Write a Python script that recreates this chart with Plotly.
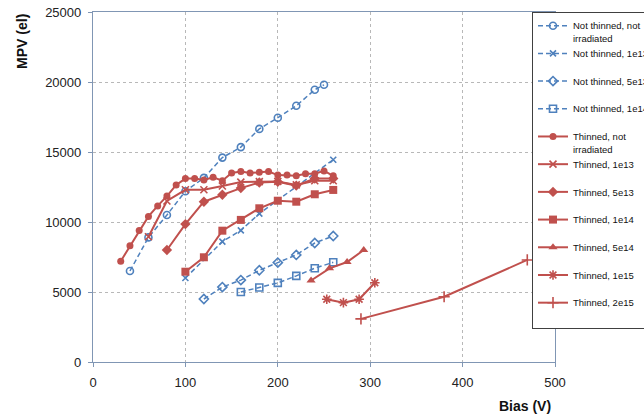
import plotly.graph_objects as go

# ---- data ----
nt_noirr_x = [40, 60, 80, 100, 120, 140, 160, 180, 200, 220, 240, 250]
nt_noirr_y = [6500, 8900, 10500, 12200, 13150, 14600, 15350, 16650, 17450, 18300, 19450, 19800]

nt_1e13_x = [100, 140, 160, 180, 260]
nt_1e13_y = [6000, 8600, 9400, 10600, 14450]

nt_5e13_x = [120, 140, 160, 180, 200, 220, 240, 260]
nt_5e13_y = [4500, 5350, 5850, 6550, 7100, 7650, 8500, 9000]

nt_1e14_x = [160, 180, 200, 220, 240, 260]
nt_1e14_y = [5000, 5320, 5650, 6150, 6700, 7120]

t_noirr_x = [30, 40, 50, 60, 70, 80, 90, 100, 110, 120, 130, 140, 150, 160, 170, 180,
             190, 200, 210, 220, 230, 240, 250, 260]
t_noirr_y = [7200, 8300, 9400, 10400, 11150, 11850, 12650, 13100, 13100, 13000, 13200, 12950,
             13500, 13600, 13500, 13550, 13600, 13350, 13350, 13300, 13450, 13450, 13650, 13300]

t_1e13_x = [60, 80, 100, 120, 140, 160, 180, 200, 220, 240, 260]
t_1e13_y = [8950, 11500, 12300, 12300, 12570, 12850, 12880, 12900, 12650, 12950, 12950]

t_5e13_x = [80, 100, 120, 140, 160, 180, 200, 220, 240, 260]
t_5e13_y = [8000, 9850, 11450, 11950, 12420, 12820, 12880, 12600, 13100, 13100]

t_1e14_x = [100, 120, 140, 160, 180, 200, 220, 240, 260]
t_1e14_y = [6450, 7480, 9380, 10150, 10980, 11520, 11450, 11980, 12290]

t_5e14_x = [236, 256, 275, 293]
t_5e14_y = [5820, 6690, 7140, 8000]

t_1e15_x = [253, 271, 288, 305]
t_1e15_y = [4480, 4240, 4480, 5660]

t_2e15_x = [290, 380, 470]
t_2e15_y = [3080, 4660, 7290]

x_ticks = [0, 100, 200, 300, 400, 500]
y_ticks = [0, 5000, 10000, 15000, 20000, 25000]

BLUE = "#4f81bd"
RED = "#c0504d"

series = [
    ("Not thinned, not<br>irradiated", nt_noirr_x, nt_noirr_y, BLUE, "circle-open", 7, True),
    ("Not thinned, 1e13<br> ", nt_1e13_x, nt_1e13_y, BLUE, "x-thin", 6, True),
    ("Not thinned, 5e13<br> ", nt_5e13_x, nt_5e13_y, BLUE, "diamond-open", 7, True),
    ("Not thinned, 1e14<br> ", nt_1e14_x, nt_1e14_y, BLUE, "square-open", 7, True),
    ("Thinned, not<br>irradiated", t_noirr_x, t_noirr_y, RED, "circle", 7, False),
    ("Thinned, 1e13<br> ", t_1e13_x, t_1e13_y, RED, "x-thin", 7, False),
    ("Thinned, 5e13<br> ", t_5e13_x, t_5e13_y, RED, "diamond", 8, False),
    ("Thinned, 1e14<br> ", t_1e14_x, t_1e14_y, RED, "square", 8, False),
    ("Thinned, 5e14<br> ", t_5e14_x, t_5e14_y, RED, "triangle-up", 8, False),
    ("Thinned, 1e15<br> ", t_1e15_x, t_1e15_y, RED, "asterisk-open", 8, False),
    ("Thinned, 2e15<br> ", t_2e15_x, t_2e15_y, RED, "cross-thin", 8, False),
]

fig = go.Figure()
for name, xs, ys, col, sym, size, dashed in series:
    outline = sym.endswith("-thin") or sym.endswith("-open")
    marker = dict(symbol=sym, size=size, color=col,
                  line=dict(color=col, width=1.6 if outline else 0))
    fig.add_trace(go.Scatter(
        x=xs, y=ys, name=name, mode="lines+markers",
        line=dict(color=col, width=1.5 if dashed else 2, dash="5px,3px" if dashed else "solid"),
        marker=marker,
    ))

FONT = "Liberation Sans"
fig.update_layout(
    width=644, height=416,
    margin=dict(l=93, r=89, t=12, b=54, autoexpand=False),
    paper_bgcolor="white", plot_bgcolor="white",
    font=dict(family=FONT, size=13, color="#222"),
    showlegend=True,
    legend=dict(
        xref="paper", yref="paper",
        x=(532 - 93) / 462, y=1.0, xanchor="left", yanchor="top",
        bgcolor="white", bordercolor="#404040", borderwidth=1,
        font=dict(family=FONT, size=9.5, color="#111"),
        valign="top", itemwidth=30,
    ),
    xaxis=dict(
        range=[0, 500], tickvals=x_ticks, ticktext=[str(v) for v in x_ticks],
        showgrid=True, gridcolor="#b8b8b8", griddash="dot", gridwidth=1,
        showline=True, linecolor="#8096b4", linewidth=1.2, mirror=True,
        ticks="outside", ticklen=4, tickcolor="#8096b4",
        zeroline=False, ticklabelstandoff=4,
    ),
    yaxis=dict(
        range=[0, 25000], tickvals=y_ticks, ticktext=[str(v) for v in y_ticks],
        showgrid=True, gridcolor="#b8b8b8", griddash="dot", gridwidth=1,
        showline=True, linecolor="#8096b4", linewidth=1.2, mirror=True,
        ticks="outside", ticklen=4, tickcolor="#8096b4",
        zeroline=False, ticklabelstandoff=4,
    ),
    annotations=[
        dict(text="<b>MPV (el)</b>", xref="paper", yref="paper",
             x=-0.155, y=1.0, xanchor="center", yanchor="top", textangle=-90,
             showarrow=False, font=dict(family=FONT, size=14, color="#111")),
        dict(text="<b>Bias (V)</b>", xref="paper", yref="paper",
             x=0.935, y=-0.098, xanchor="center", yanchor="top",
             showarrow=False, font=dict(family=FONT, size=14, color="#111")),
    ],
)

fig.write_html("out.html")
